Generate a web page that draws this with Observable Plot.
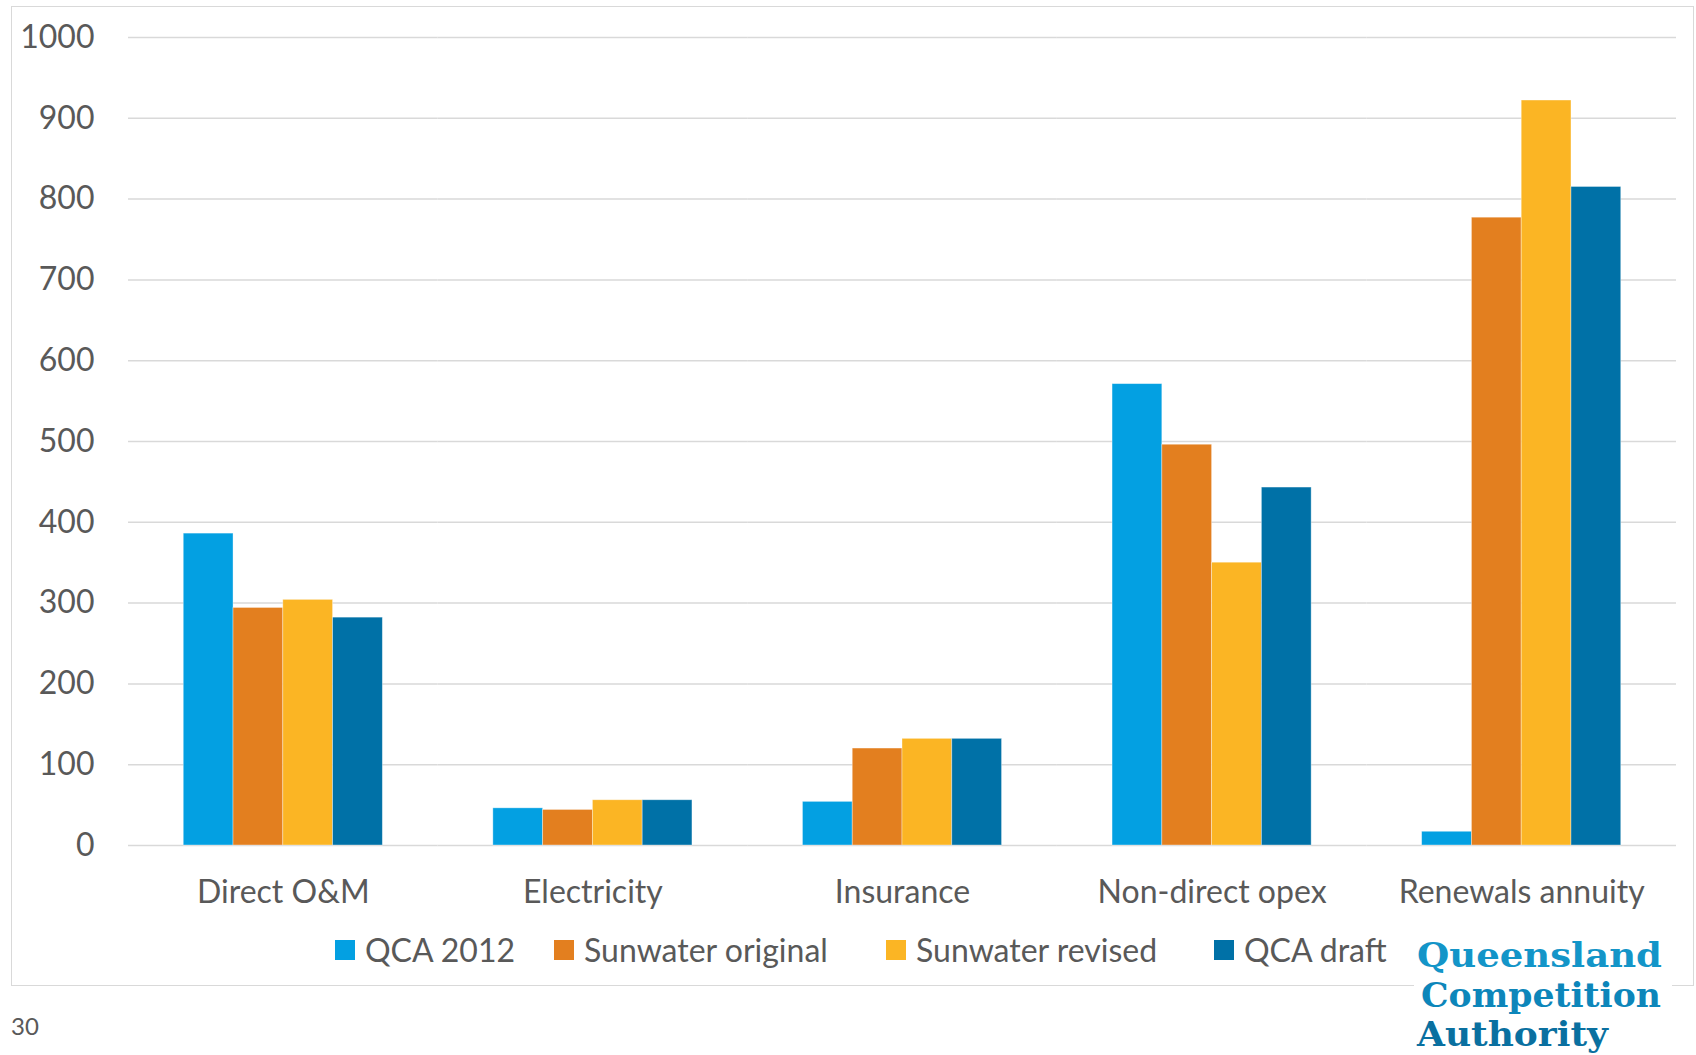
<!DOCTYPE html>
<html>
<head>
<meta charset="utf-8">
<script src="https://cdn.jsdelivr.net/npm/d3@7"></script>
<script src="https://cdn.jsdelivr.net/npm/@observablehq/plot@0.6"></script>
<style>
  html, body { margin: 0; padding: 0; background: #fff; width: 1696px; height: 1055px; overflow: hidden; position: relative; font-family: Lato, sans-serif; color: #595959; }
  #frame { position: absolute; left: 11px; top: 6px; width: 1683px; height: 980px; border: 1.5px solid #d9d9d9; box-sizing: border-box; }
  #chart { position: absolute; left: 0; top: 0; }
  #legend { position: absolute; left: 0; top: 934px; width: 1400px; height: 32px; font-size: 32px; line-height: 32px; white-space: nowrap; }
  #legend .item { position: absolute; top: 0; display: flex; align-items: center; height: 32px; }
  #legend .sw { width: 20px; height: 20px; margin-right: 10px; }
  #page { position: absolute; left: 11px; top: 1012px; font-size: 24px; line-height: 28px; color: #595959; }
  #logo { position: absolute; left: 1408px; top: 930px; }
</style>
</head>
<body>
<div id="frame"></div>
<div id="chart"></div>
<div id="legend"></div>
<div id="page">30</div>
<svg id="logo" width="270" height="125" viewBox="0 0 270 125">
  <rect x="6" y="0" width="258" height="125" fill="#fff"></rect>
  <text x="9" y="36.7" font-family="DejaVu Serif" font-weight="bold" font-size="33" fill="#1395c8" textLength="245" lengthAdjust="spacingAndGlyphs">Queensland</text>
  <text x="13" y="77" font-family="DejaVu Serif" font-weight="bold" font-size="33" fill="#0d86ba" textLength="240" lengthAdjust="spacingAndGlyphs">Competition</text>
  <text x="9" y="116" font-family="DejaVu Serif" font-weight="bold" font-size="33" fill="#0a70a0" textLength="191" lengthAdjust="spacingAndGlyphs">Authority</text>
</svg>
<script>
const categories = ["Direct O&M", "Electricity", "Insurance", "Non-direct opex", "Renewals annuity"];
const series = ["QCA 2012", "Sunwater original", "Sunwater revised", "QCA draft"];
const qca2012 = [386, 46, 54, 571, 17];
const sunwaterOriginal = [294, 44, 120, 496, 777];
const sunwaterRevised = [304, 56, 132, 350, 922];
const qcaDraft = [282, 56, 132, 443, 815];
const seriesColors = ["#03a0e2", "#e37f1f", "#fbb524", "#0071a7"];
const yTicks = [0, 100, 200, 300, 400, 500, 600, 700, 800, 900, 1000];

const seriesValues = [qca2012, sunwaterOriginal, sunwaterRevised, qcaDraft];
const data = [];
categories.forEach((c, i) => {
  series.forEach((s, j) => {
    data.push({category: c, series: s, value: seriesValues[j][i]});
  });
});

const H = 925;
const chart = Plot.plot({
  width: 1696,
  height: H,
  marginLeft: 128,
  marginRight: 20,
  marginTop: 37,
  marginBottom: H - 845,
  style: {fontFamily: "Lato, sans-serif", fontSize: "32px", color: "#595959", background: "transparent"},
  fx: {domain: categories, padding: 0, round: false, axis: "bottom", tickSize: 0, tickPadding: 35, label: null},
  x: {domain: series, paddingInner: 0, paddingOuter: 1.11, round: false, axis: null},
  y: {domain: [0, 1000], ticks: yTicks, tickFormat: d => String(d), tickSize: 0, tickPadding: 34, label: null},
  color: {domain: series, range: seriesColors},
  marks: [
    Plot.ruleY(yTicks, {stroke: "#d9d9d9", strokeWidth: 1.5}),
    Plot.barY(data, {fx: "category", x: "series", y: "value", fill: "series", stroke: "white", strokeWidth: 0.8, strokeOpacity: 0.45})
  ]
});
document.getElementById("chart").appendChild(chart);

// legend layout (left edge of each swatch, px)
const legendLeft = [335, 554, 886, 1214];
const legend = document.getElementById("legend");
series.forEach((s, j) => {
  const item = document.createElement("div");
  item.className = "item";
  item.style.left = legendLeft[j] + "px";
  const sw = document.createElement("div");
  sw.className = "sw";
  sw.style.background = seriesColors[j];
  const t = document.createElement("span");
  t.textContent = s;
  item.appendChild(sw);
  item.appendChild(t);
  legend.appendChild(item);
});
</script>
</body>
</html>
